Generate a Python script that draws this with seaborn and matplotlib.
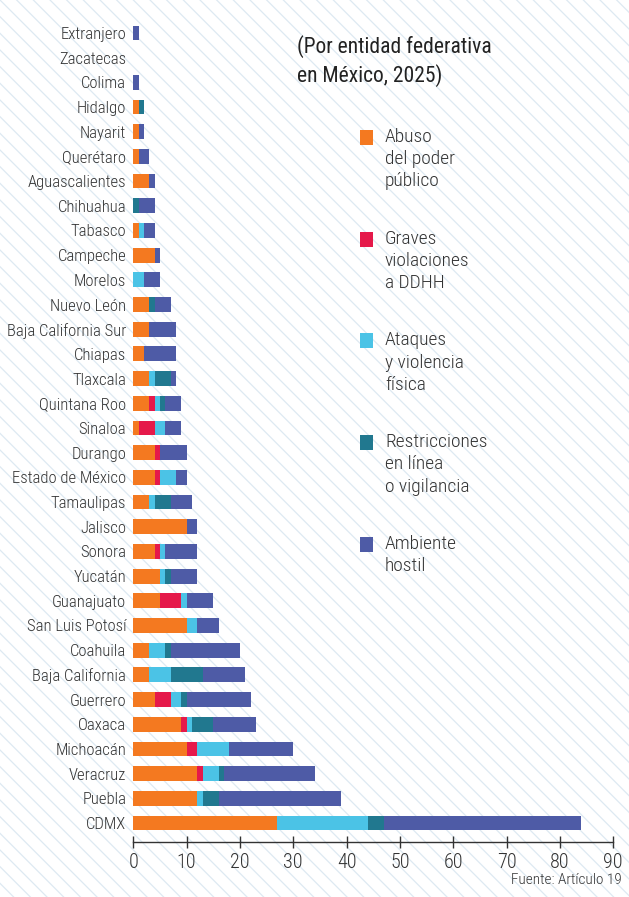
import pandas as pd
import matplotlib
matplotlib.use("Agg")
import matplotlib.pyplot as plt
from matplotlib.patches import Rectangle
import seaborn as sns

# Data
estados = ["Extranjero", "Zacatecas", "Colima", "Hidalgo", "Nayarit", "Querétaro",
           "Aguascalientes", "Chihuahua", "Tabasco", "Campeche", "Morelos", "Nuevo León",
           "Baja California Sur", "Chiapas", "Tlaxcala", "Quintana Roo", "Sinaloa",
           "Durango", "Estado de México", "Tamaulipas", "Jalisco", "Sonora", "Yucatán",
           "Guanajuato", "San Luis Potosí", "Coahuila", "Baja California", "Guerrero",
           "Oaxaca", "Michoacán", "Veracruz", "Puebla", "CDMX"]
abuso = [0, 0, 0, 1, 1, 1, 3, 0, 1, 4, 0, 3, 3, 2, 3, 3, 1, 4, 4, 3, 10, 4, 5, 5, 10, 3, 3, 4, 9, 10, 12, 12, 27]
graves = [0, 0, 0, 0, 0, 0, 0, 0, 0, 0, 0, 0, 0, 0, 0, 1, 3, 1, 1, 0, 0, 1, 0, 4, 0, 0, 0, 3, 1, 2, 1, 0, 0]
ataques = [0, 0, 0, 0, 0, 0, 0, 0, 1, 0, 2, 0, 0, 0, 1, 1, 2, 0, 3, 1, 0, 1, 1, 1, 2, 3, 4, 2, 1, 6, 3, 1, 17]
restricciones = [0, 0, 0, 1, 0, 0, 0, 1, 0, 0, 0, 1, 0, 0, 3, 1, 0, 0, 0, 3, 0, 0, 1, 0, 0, 1, 6, 1, 4, 0, 1, 3, 3]
ambiente = [1, 0, 1, 0, 1, 2, 1, 3, 2, 1, 3, 3, 5, 6, 1, 3, 3, 5, 2, 4, 2, 6, 5, 5, 4, 13, 8, 12, 8, 12, 17, 23, 37]

categorias = ["Abuso\ndel poder\npúblico", "Graves\nviolaciones\na DDHH",
              "Ataques\ny violencia\nfísica", "Restricciones\nen línea\no vigilancia",
              "Ambiente\nhostil"]
colores = ["#F47920", "#E5194A", "#4BC3E6", "#21788F", "#4E5BA6"]

df = pd.DataFrame({"estado": estados, "abuso": abuso, "graves": graves,
                   "ataques": ataques, "restricciones": restricciones, "ambiente": ambiente})
cols = ["abuso", "graves", "ataques", "restricciones", "ambiente"]
cum = df[cols].cumsum(axis=1)
for c in cols:
    df["cum_" + c] = cum[c]

sns.set_theme(style="ticks")
plt.rcParams["font.family"] = ["Roboto Condensed", "Liberation Sans Narrow", "DejaVu Sans"]
plt.rcParams["hatch.linewidth"] = 0.9
texto = "#333333"

W, H = 629, 897
fig = plt.figure(figsize=(W / 100, H / 100), dpi=100)
fig.patch.set_facecolor("white")
# diagonal stripes in the background
fig.add_artist(Rectangle((0, 0), 1, 1, transform=fig.transFigure, facecolor="none",
                         edgecolor="#dde9f2", hatch="\\\\", linewidth=0, zorder=-10))

ax = fig.add_axes([133.3 / W, 1 - 842 / H, 480 / W, (842 - 20.6) / H])
ax.set_facecolor("none")

# stacked bars: draw cumulative totals from the outermost segment inwards
for c, color in zip(reversed(cols), reversed(colores)):
    sns.barplot(data=df, x="cum_" + c, y="estado", order=estados, orient="y",
                color=color, saturation=1, width=0.6, linewidth=0, ax=ax)

ax.set_xlim(0, 90)
ax.set_ylim(32.77, -0.5)
ax.set_xticks(range(0, 91, 10))
ax.set_xlabel("")
ax.set_ylabel("")
sns.despine(ax=ax, left=True)
ax.spines["bottom"].set_color(texto)
ax.spines["bottom"].set_linewidth(1)
ax.tick_params(axis="x", direction="inout", length=8, width=1, color=texto,
               labelsize=14.5, labelcolor=texto, pad=4)
ax.tick_params(axis="y", length=0, labelsize=12, labelcolor=texto, pad=5)
for lbl in ax.get_xticklabels() + ax.get_yticklabels():
    lbl.set_fontweight("light")

# title
fig.text(297 / W, 1 - 35 / H, "(Por entidad federativa\nen México, 2025)",
         ha="left", va="top", fontsize=15.5, linespacing=1.35, color="#222222")

# legend
for i, (lab, color) in enumerate(zip(categorias, colores)):
    y0 = 130 + 101.7 * i
    fig.add_artist(Rectangle((360 / W, 1 - (y0 + 15) / H), 13 / W, 15 / H,
                             transform=fig.transFigure, facecolor=color, linewidth=0))
    fig.text(385 / W, 1 - (y0 - 2) / H, lab, ha="left", va="top", fontweight="light",
             fontsize=14, linespacing=1.3, color=texto)

fig.text(622 / W, 1 - 884 / H, "Fuente: Artículo 19", ha="right", va="baseline",
         fontsize=11, fontweight="light", color=texto)

fig.savefig("out.png", dpi=100)
